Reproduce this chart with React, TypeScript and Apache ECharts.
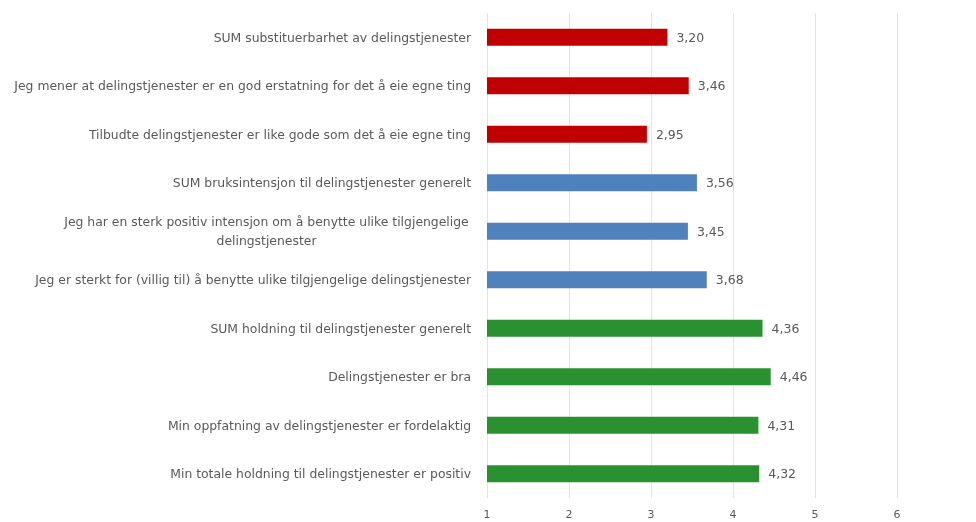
import React, { useEffect, useRef } from "react";
import * as echarts from "echarts";

const categories = [
  "SUM substituerbarhet av delingstjenester",
  "Jeg mener at delingstjenester er en god erstatning for det å eie egne ting",
  "Tilbudte delingstjenester er like gode som det å eie egne ting",
  "SUM bruksintensjon til delingstjenester generelt",
  "Jeg har en sterk positiv intensjon om å benytte ulike tilgjengelige\ndelingstjenester",
  "Jeg er sterkt for (villig til) å benytte ulike tilgjengelige delingstjenester",
  "SUM holdning til delingstjenester generelt",
  "Delingstjenester er bra",
  "Min oppfatning av delingstjenester er fordelaktig",
  "Min totale holdning til delingstjenester er positiv",
];
const values = [3.2, 3.46, 2.95, 3.56, 3.45, 3.68, 4.36, 4.46, 4.31, 4.32];
const groups = ["red", "red", "red", "blue", "blue", "blue", "green", "green", "green", "green"];
const groupColors: Record<string, string> = { red: "#C00000", blue: "#4F81BD", green: "#2A9130" };
const xTicks = [1, 2, 3, 4, 5, 6, 7];

export default function App() {
  const ref = useRef<HTMLDivElement>(null);
  useEffect(() => {
    if (!ref.current) return;
    const chart = echarts.init(ref.current, null, { renderer: "svg" });
    const font = "'DejaVu Sans', sans-serif";
    chart.setOption({
      animation: false,
      grid: { left: 487, right: -3, top: 13, bottom: 24, containLabel: false, outerBoundsMode: "none" },
      xAxis: {
        type: "value",
        min: xTicks[0],
        max: xTicks[xTicks.length - 1],
        interval: 1,
        axisLine: { show: false },
        axisTick: { show: false },
        splitLine: { show: true, lineStyle: { color: "#E3E3E3", width: 1 } },
        axisLabel: { color: "#595959", fontSize: 11, fontFamily: font, margin: 11 },
      },
      yAxis: {
        type: "category",
        inverse: true,
        data: categories,
        axisLine: { show: false },
        axisTick: { show: false },
        axisLabel: {
          color: "#595959",
          fontSize: 12.4,
          fontFamily: font,
          margin: 16,
          formatter: (v: string) => {
            if (v.includes("\n")) {
              return v.split("\n").map((l) => `{c|${l}}`).join("\n");
            }
            return v;
          },
          rich: {
            c: { width: 409, align: "center", color: "#595959", fontSize: 12.4, fontFamily: font, lineHeight: 19 },
          },
        },
      },
      series: [
        {
          type: "bar",
          barWidth: 17,
          data: values.map((v, i) => ({ value: v, itemStyle: { color: groupColors[groups[i]] } })),
          label: {
            show: true,
            position: "right",
            distance: 9,
            color: "#595959",
            fontSize: 12.5,
            fontFamily: font,
            formatter: (p: any) => Number(p.value).toFixed(2).replace(".", ","),
          },
        },
      ],
    });
    return () => chart.dispose();
  }, []);
  return <div ref={ref} style={{ position: "fixed", left: 0, top: 0, width: 976, height: 522 }} />;
}
